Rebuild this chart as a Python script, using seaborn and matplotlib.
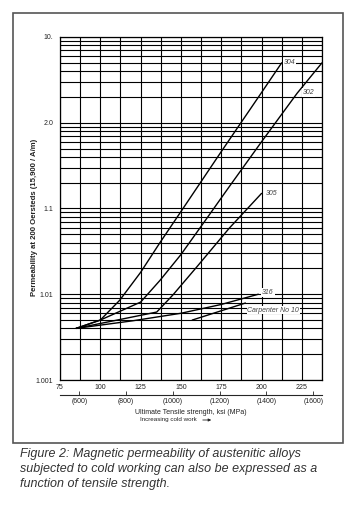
import matplotlib
matplotlib.use("Agg")
import matplotlib.pyplot as plt
import matplotlib.ticker as mticker
from matplotlib.patches import Rectangle
import pandas as pd
import seaborn as sns

# tensile strength (ksi) vs permeability at 200 Oe
ksi_304 = [85, 100, 112, 125, 137, 150, 175, 200, 212.5]
mu_304 = [1.004, 1.005, 1.0085, 1.018, 1.04, 1.092, 1.46, 3.25, 6.0]

ksi_302 = [85, 100, 125, 137, 150, 165, 180, 200, 222, 237.5]
mu_302 = [1.004, 1.005, 1.0081, 1.0145, 1.029, 1.072, 1.18, 1.6, 3.2, 6.0]

ksi_305 = [85, 135, 145, 160, 180, 200]
mu_305 = [1.004, 1.0062, 1.0098, 1.021, 1.059, 1.15]

ksi_316 = [85, 120, 150, 175, 198]
mu_316 = [1.004, 1.0049, 1.006, 1.0076, 1.010]

ksi_carp = [157, 190]
mu_carp = [1.005, 1.0079]

alloys = ["304", "302", "305", "316", "Carpenter No 10"]
curves = [(ksi_304, mu_304), (ksi_302, mu_302), (ksi_305, mu_305),
          (ksi_316, mu_316), (ksi_carp, mu_carp)]

ytick_vals = [1.001, 1.01, 1.1, 2.0, 11.0]
ytick_labels = ["1.001", "1.01", "1.1", "2.0", "10."]
xtick_vals = [75, 100, 125, 150, 175, 200, 225]
mpa_ticks = [600, 800, 1000, 1200, 1400, 1600]

caption = ("Figure 2: Magnetic permeability of austenitic alloys\n"
           "subjected to cold working can also be expressed as a\n"
           "function of tensile strength.")

rows = []
for name, (xs, ys) in zip(alloys, curves):
    for x, y in zip(xs, ys):
        rows.append({"alloy": name, "ksi": x, "excess": y - 1})
df = pd.DataFrame(rows)

sns.set_style("white")
plt.rcParams['font.family'] = ['Liberation Sans', 'DejaVu Sans']

W, H = 357, 507
fig = plt.figure(figsize=(W / 100, H / 100), dpi=100)
ax = fig.add_axes([60 / W, 127 / H, 262 / W, 343 / H])
ax.set_yscale("log")
ax.set_xlim(75, 237.5)
ax.set_ylim(0.001, 10)

# grid like graph paper
ax.xaxis.set_major_locator(mticker.FixedLocator(xtick_vals))
ax.xaxis.set_minor_locator(mticker.MultipleLocator(12.5))
ax.yaxis.set_major_locator(mticker.FixedLocator([v - 1 for v in ytick_vals]))
ax.yaxis.set_minor_locator(mticker.LogLocator(base=10, subs=range(2, 10)))
ax.yaxis.set_minor_formatter(mticker.NullFormatter())
ax.set_yticklabels(ytick_labels)
ax.set_xticklabels([str(v) for v in xtick_vals])
ax.grid(which="both", color="black", lw=0.8)
ax.tick_params(which="both", length=0, labelsize=5, colors="#222")
ax.tick_params(axis="y", pad=5)
ax.tick_params(axis="x", pad=3)
for s in ax.spines.values():
    s.set_color("black")
    s.set_linewidth(0.9)

sns.lineplot(data=df, x="ksi", y="excess", units="alloy", estimator=None,
             color="black", lw=1.0, ax=ax, legend=False)
ax.set_xlabel("")
ax.set_ylabel("")

# curve labels
label_offsets = {"304": (2, 0), "302": (-19, -30), "305": (4, 0),
                 "316": (4, 2), "Carpenter No 10": (2, -7)}
for name, (xs, ys) in zip(alloys, curves):
    dx, dy = label_offsets[name]
    ax.annotate(name, xy=(xs[-1], ys[-1] - 1), xytext=(dx * 0.72, dy * 0.72),
                textcoords="offset points", fontsize=5, style="italic",
                color="#444", ha="left", va="center",
                bbox=dict(fc="white", ec="none", pad=0.6))

# MPa scale below the ksi labels
sec = ax.secondary_xaxis(-0.044, functions=(lambda k: k * 6.895, lambda m: m / 6.895))
sec.set_xticks(mpa_ticks)
sec.set_xticklabels(["(%d)" % m for m in mpa_ticks])
sec.tick_params(direction="in", length=3, width=0.6, labelsize=5, pad=2, colors="#222")
sec.spines["bottom"].set_linewidth(0.8)

fig.text(191 / W, 1 - 412 / H, "Ultimate Tensile strength, ksi (MPa)",
         ha="center", va="center", fontsize=5, color="#222")
fig.text(197 / W, 1 - 420 / H, "Increasing cold work", ha="right", va="center",
         fontsize=4.5, color="#222")
fig.add_artist(matplotlib.patches.FancyArrowPatch(
    (200 / W, 1 - 420 / H), (214 / W, 1 - 420 / H), transform=fig.transFigure,
    arrowstyle="-|>", mutation_scale=4, lw=0.6, color="#222"))

fig.text(35 / W, 1 - 217 / H, "Permeability at 200 Oersteds (15,900 / A/m)",
         rotation=90, ha="center", va="center", fontsize=5.6, fontweight="bold",
         color="#222")

fig.add_artist(Rectangle((13 / W, 1 - 443 / H), 330 / W, 430 / H,
                         transform=fig.transFigure, fill=False, ec="#555", lw=1.2))

fig.text(20 / W, 1 - 448 / H, caption, ha="left", va="top", fontsize=9,
         style="italic", color="#333", linespacing=1.33,
         family=["Liberation Sans Narrow", "Liberation Sans", "DejaVu Sans"])

fig.savefig("out.png", dpi=100, facecolor="white")
